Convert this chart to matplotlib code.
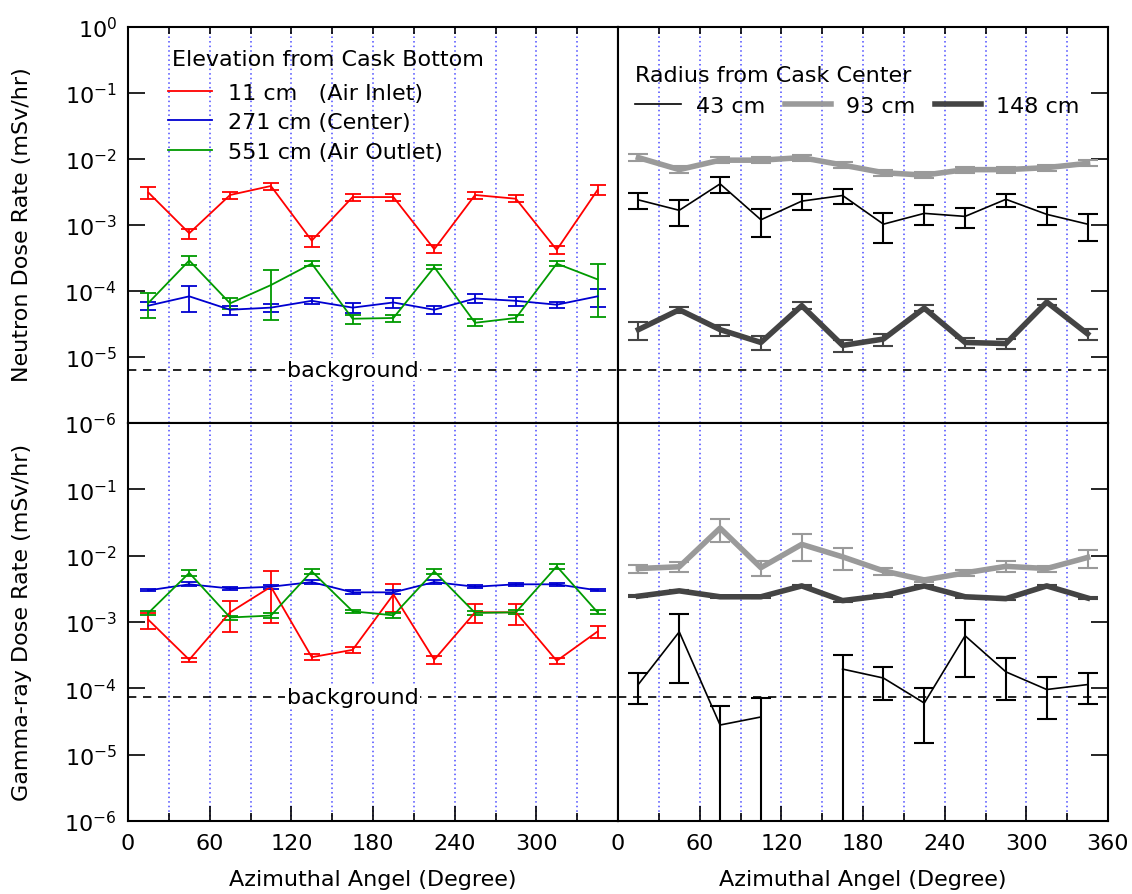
import numpy as np
import matplotlib
matplotlib.use("Agg")
import matplotlib.pyplot as plt

plt.rcParams['font.family'] = ['DejaVu Sans']
plt.rcParams['mathtext.default'] = 'regular'

# azimuthal positions of the detectors (degrees)
angles = np.arange(15, 360, 30)

# neutron dose rate vs elevation (mSv/hr)
n_11 = [3.1e-3, 7.5e-4, 2.85e-3, 3.9e-3, 5.8e-4, 2.65e-3, 2.65e-3, 4.3e-4, 2.85e-3, 2.5e-3, 4.2e-4, 3.4e-3]
n_11_err = [0.6e-3, 1.3e-4, 0.35e-3, 0.5e-3, 1.1e-4, 0.35e-3, 0.35e-3, 0.6e-4, 0.35e-3, 0.3e-3, 0.6e-4, 0.6e-3]
n_271 = [6.0e-5, 8.3e-5, 5.2e-5, 5.6e-5, 7.1e-5, 5.6e-5, 6.7e-5, 5.2e-5, 7.7e-5, 7.1e-5, 6.2e-5, 8.3e-5]
n_271_err = [0.8e-5, 3.5e-5, 0.8e-5, 0.8e-5, 0.8e-5, 1.0e-5, 1.2e-5, 0.7e-5, 1.2e-5, 1.1e-5, 0.6e-5, 2.5e-5]
n_551 = [6.6e-5, 2.9e-4, 6.5e-5, 1.23e-4, 2.6e-4, 3.8e-5, 3.9e-5, 2.3e-4, 3.3e-5, 3.9e-5, 2.6e-4, 1.5e-4]
n_551_err = [2.7e-5, 0.45e-4, 1.2e-5, 0.87e-4, 0.2e-4, 0.6e-5, 0.5e-5, 0.15e-4, 0.4e-5, 0.5e-5, 0.2e-4, 1.1e-4]

# neutron dose rate vs radius
n_43 = [2.4e-3, 1.67e-3, 4.2e-3, 1.2e-3, 2.3e-3, 2.8e-3, 1.03e-3, 1.5e-3, 1.35e-3, 2.45e-3, 1.45e-3, 1.03e-3]
n_43_err = [0.65e-3, 0.7e-3, 1.1e-3, 0.55e-3, 0.6e-3, 0.75e-3, 0.5e-3, 0.5e-3, 0.45e-3, 0.55e-3, 0.45e-3, 0.45e-3]
n_93 = [1.05e-2, 6.9e-3, 9.6e-3, 9.6e-3, 1.05e-2, 8.1e-3, 6.2e-3, 5.7e-3, 6.9e-3, 6.9e-3, 7.4e-3, 8.6e-3]
n_93_err = [1.2e-3, 0.8e-3, 1.0e-3, 1.0e-3, 1.1e-3, 0.9e-3, 0.7e-3, 0.6e-3, 0.7e-3, 0.7e-3, 0.8e-3, 0.9e-3]
n_148 = [2.6e-5, 5.2e-5, 2.6e-5, 1.66e-5, 6.0e-5, 1.5e-5, 1.87e-5, 5.5e-5, 1.66e-5, 1.6e-5, 6.8e-5, 2.24e-5]
n_148_err = [0.8e-5, 0.6e-5, 0.5e-5, 0.4e-5, 0.7e-5, 0.3e-5, 0.4e-5, 0.6e-5, 0.3e-5, 0.3e-5, 0.7e-5, 0.4e-5]

# gamma-ray dose rate vs elevation
g_11 = [1.08e-3, 2.7e-4, 1.4e-3, 3.4e-3, 2.95e-4, 3.8e-4, 2.6e-3, 2.7e-4, 1.4e-3, 1.4e-3, 2.6e-4, 7.2e-4]
g_11_err = [0.3e-3, 0.2e-4, 0.7e-3, 2.45e-3, 0.3e-4, 0.4e-4, 1.2e-3, 0.4e-4, 0.45e-3, 0.5e-3, 0.25e-4, 1.5e-4]
g_271 = [3.0e-3, 3.7e-3, 3.2e-3, 3.4e-3, 4.0e-3, 2.8e-3, 2.8e-3, 4.0e-3, 3.4e-3, 3.7e-3, 3.7e-3, 3.0e-3]
g_271_err = [0.1e-3, 0.25e-3, 0.2e-3, 0.25e-3, 0.25e-3, 0.2e-3, 0.2e-3, 0.25e-3, 0.2e-3, 0.2e-3, 0.2e-3, 0.1e-3]
g_551 = [1.37e-3, 5.5e-3, 1.17e-3, 1.25e-3, 5.8e-3, 1.45e-3, 1.26e-3, 5.8e-3, 1.37e-3, 1.4e-3, 6.9e-3, 1.4e-3]
g_551_err = [0.1e-3, 0.5e-3, 0.08e-3, 0.1e-3, 0.5e-3, 0.08e-3, 0.1e-3, 0.5e-3, 0.1e-3, 0.1e-3, 0.7e-3, 0.1e-3]

# gamma-ray dose rate vs radius (no reading for 43 cm at 135 deg)
g_43 = [1.15e-4, 7.1e-4, 2.8e-5, 3.7e-5, np.nan, 1.95e-4, 1.43e-4, 6.0e-5, 6.2e-4, 1.77e-4, 9.6e-5, 1.14e-4]
g_43_lo = [0.57e-4, 5.9e-4, 2.8e-5, 3.7e-5, np.nan, 1.95e-4, 0.76e-4, 4.5e-5, 4.7e-4, 1.11e-4, 6.2e-5, 5.6e-5]
g_43_hi = [0.55e-4, 6.3e-4, 2.7e-5, 3.4e-5, np.nan, 1.22e-4, 0.67e-4, 4.0e-5, 4.6e-4, 1.13e-4, 5.4e-5, 5.6e-5]
g_93 = [6.4e-3, 6.8e-3, 2.6e-2, 6.6e-3, 1.48e-2, 9.6e-3, 5.9e-3, 4.3e-3, 5.5e-3, 6.9e-3, 6.4e-3, 9.4e-3]
g_93_err = [0.9e-3, 1.2e-3, 1.0e-2, 1.7e-3, 6.5e-3, 3.5e-3, 0.7e-3, 0.3e-3, 0.6e-3, 1.3e-3, 0.7e-3, 2.8e-3]
g_148 = [2.45e-3, 2.95e-3, 2.4e-3, 2.4e-3, 3.5e-3, 2.1e-3, 2.5e-3, 3.5e-3, 2.4e-3, 2.25e-3, 3.5e-3, 2.3e-3]
g_148_err = [0.1e-3] * 12

# background levels
bg_neutron = 6.4e-6
bg_gamma = 7.4e-5

elev_labels = ['11 cm   (Air Inlet)', '271 cm (Center)', '551 cm (Air Outlet)']
elev_colors = ['#ff0000', '#0000d0', '#009a00']
rad_labels = ['43 cm', '93 cm', '148 cm']

fig = plt.figure(figsize=(11.32, 8.95), dpi=100)
W, H = 1132, 895
x0, xm, x1 = 128, 618, 1108
y0, ym, y1 = 28, 424, 822
FS = 16


def add_ax(xl, xr, yt, yb):
    return fig.add_axes([xl / W, 1 - yb / H, (xr - xl) / W, (yb - yt) / H])


ax_nl = add_ax(x0, xm, y0, ym)
ax_nr = add_ax(xm, x1, y0, ym)
ax_gl = add_ax(x0, xm, ym, y1)
ax_gr = add_ax(xm, x1, ym, y1)

decades = [10.0 ** k for k in range(-6, 1)]
dec_labels = ['$10^{%d}$' % k for k in range(-6, 1)]

for ax in (ax_nl, ax_nr, ax_gl, ax_gr):
    ax.set_yscale('log')
    ax.set_xlim(0, 360)
    ax.set_ylim(1e-6, 1)
    ax.set_xticks(range(0, 361, 60))
    ax.set_xticks(range(30, 360, 60), minor=True)
    ax.set_yticks(decades)
    ax.yaxis.set_minor_locator(plt.NullLocator())
    for v in range(30, 360, 30):
        ax.axvline(v, color='#4a4aff', lw=1.1, ls=(0, (1, 2)), zorder=0)
    for s in ax.spines.values():
        s.set_linewidth(1.5)
    ax.tick_params(axis='both', which='both', direction='in', width=1.2,
                   labelsize=16, top=False, bottom=False, left=False, right=False,
                   labelbottom=False, labelleft=False)

# y ticks: left panels on the left, right panels on the right
for ax in (ax_nl, ax_gl):
    ax.tick_params(axis='y', left=True, labelleft=True, length=12, pad=8)
for ax in (ax_nr, ax_gr):
    ax.tick_params(axis='y', right=True, length=12)
ax_nl.set_yticklabels(dec_labels)
ax_gl.set_yticklabels(dec_labels[:-1] + [''])

# x ticks: top panels on top, bottom panels on the bottom
for ax in (ax_nl, ax_nr):
    ax.tick_params(axis='x', which='both', top=True, length=5)
for ax in (ax_gl, ax_gr):
    ax.tick_params(axis='x', which='major', bottom=True, labelbottom=True, length=11, pad=9)
    ax.tick_params(axis='x', which='minor', bottom=True, length=6)
ax_gl.set_xticklabels(['0', '60', '120', '180', '240', '300', ''])

# elevation series
elev_lines = []
for ax_, sets in ((ax_nl, [(n_11, n_11_err), (n_271, n_271_err), (n_551, n_551_err)]),
                  (ax_gl, [(g_11, g_11_err), (g_271, g_271_err), (g_551, g_551_err)])):
    handles = []
    for (vals, err), c in zip(sets, elev_colors):
        eb = ax_.errorbar(angles, vals, yerr=err, color=c, lw=1.3, elinewidth=1.3,
                          capsize=5.5, capthick=1.3, zorder=3)
        handles.append(eb[0])
    elev_lines.append(handles)

# radius series, neutron
r43 = ax_nr.errorbar(angles, n_43, yerr=n_43_err, color='black', lw=1.2,
                     elinewidth=1.5, capsize=7, capthick=1.5, zorder=3)
r93 = ax_nr.errorbar(angles, n_93, yerr=n_93_err, color='#9a9a9a', lw=4,
                     elinewidth=1.5, capsize=7, capthick=1.5, zorder=2)
r148 = ax_nr.errorbar(angles, n_148, yerr=n_148_err, color='#444444', lw=4,
                      elinewidth=1.5, capsize=7, capthick=1.5, zorder=2)

# radius series, gamma-ray
ax_gr.errorbar(angles, g_93, yerr=g_93_err, color='#9a9a9a', lw=4,
               elinewidth=1.5, capsize=7, capthick=1.5, zorder=2)
ax_gr.errorbar(angles, g_148, yerr=g_148_err, color='#444444', lw=4,
               elinewidth=1.5, capsize=7, capthick=1.5, zorder=2)
ax_gr.errorbar(angles, g_43, yerr=[g_43_lo, g_43_hi], color='black', lw=1.2,
               elinewidth=1.5, capsize=7, capthick=1.5, zorder=3)

# background levels
for ax, bg in ((ax_nl, bg_neutron), (ax_nr, bg_neutron), (ax_gl, bg_gamma), (ax_gr, bg_gamma)):
    ax.axhline(bg, color='black', lw=1.2, ls=(0, (5, 4)), zorder=1)
for ax, bg in ((ax_nl, bg_neutron), (ax_gl, bg_gamma)):
    ax.text(165, bg, 'background', fontsize=FS, ha='center', va='center', zorder=4,
            bbox=dict(facecolor='white', edgecolor='none', pad=1))

# legends
ax_nl.text(0.09, 0.919, 'Elevation from Cask Bottom', transform=ax_nl.transAxes,
           fontsize=FS, ha='left', va='center')
ax_nl.legend(elev_lines[0], elev_labels,
             loc='upper left', bbox_to_anchor=(0.0816, 0.859), frameon=False,
             fontsize=FS, handlelength=2.0, handletextpad=0.7,
             labelspacing=0.42, borderpad=0, borderaxespad=0)
ax_nr.legend([r43[0], r93[0], r148[0]], rad_labels, title='Radius from Cask Center',
             loc='upper left', bbox_to_anchor=(0.035, 0.905), frameon=False, ncol=3,
             fontsize=FS, title_fontsize=FS, handlelength=2.05, handletextpad=0.68,
             columnspacing=0.9, borderpad=0, borderaxespad=0, alignment='left')

# axis titles
fig.text(22 / W, 1 - 225 / H, 'Neutron Dose Rate (mSv/hr)', rotation=90,
         ha='center', va='center', fontsize=FS)
fig.text(22 / W, 1 - 622 / H, 'Gamma-ray Dose Rate (mSv/hr)', rotation=90,
         ha='center', va='center', fontsize=FS)
fig.text((x0 + xm) / 2 / W, 1 - 880 / H, 'Azimuthal Angel (Degree)',
         ha='center', va='center', fontsize=FS)
fig.text((xm + x1) / 2 / W, 1 - 880 / H, 'Azimuthal Angel (Degree)',
         ha='center', va='center', fontsize=FS)

fig.savefig('out.png', dpi=100)
